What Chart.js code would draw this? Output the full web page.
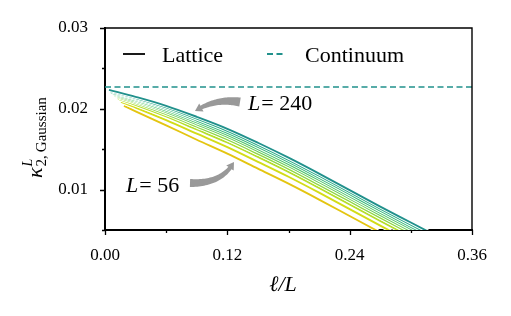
<!DOCTYPE html>
<html>
<head>
<meta charset="utf-8">
<script src="https://cdn.jsdelivr.net/npm/chart.js@4.4.1/dist/chart.umd.min.js"></script>
<style>
  html, body { margin: 0; padding: 0; background: #ffffff; }
  #wrap { width: 511px; height: 316px; position: relative; }
</style>
</head>
<body>
<div id="wrap"><canvas id="c" width="511" height="316"></canvas></div>
<script>
// ---------- data ----------
const L_VALUES = [56, 64, 80, 96, 112, 128, 160, 192, 240];
const X_GRID = [0.03, 0.06, 0.09, 0.12, 0.15, 0.18, 0.21, 0.24, 0.27, 0.30, 0.33];
const START_X = [0.0186, 0.0157, 0.0128, 0.0108, 0.0088, 0.0078, 0.0059, 0.0049, 0.0039];
const START_Y = [0.02037, 0.02086, 0.02123, 0.02148, 0.02169, 0.02185, 0.02202, 0.02219, 0.02235];

const kappa_L56  = [0.01969, 0.01796, 0.01617, 0.01444, 0.01259, 0.01074, 0.00877, 0.00673, 0.00469, 0.00265, 0.00060];
const kappa_L64  = [0.02016, 0.01860, 0.01693, 0.01526, 0.01344, 0.01159, 0.00962, 0.00758, 0.00554, 0.00352, 0.00151];
const kappa_L80  = [0.02049, 0.01905, 0.01744, 0.01583, 0.01404, 0.01219, 0.01021, 0.00817, 0.00614, 0.00412, 0.00211];
const kappa_L96  = [0.02072, 0.01933, 0.01779, 0.01620, 0.01442, 0.01257, 0.01059, 0.00856, 0.00652, 0.00452, 0.00252];
const kappa_L112 = [0.02089, 0.01958, 0.01807, 0.01651, 0.01474, 0.01289, 0.01091, 0.00888, 0.00684, 0.00484, 0.00285];
const kappa_L128 = [0.02104, 0.01978, 0.01832, 0.01678, 0.01501, 0.01316, 0.01119, 0.00915, 0.00711, 0.00512, 0.00314];
const kappa_L160 = [0.02119, 0.01998, 0.01854, 0.01702, 0.01528, 0.01343, 0.01146, 0.00942, 0.00738, 0.00539, 0.00341];
const kappa_L192 = [0.02133, 0.02017, 0.01878, 0.01727, 0.01554, 0.01369, 0.01172, 0.00968, 0.00764, 0.00565, 0.00368];
const kappa_L240 = [0.02148, 0.02037, 0.01901, 0.01753, 0.01580, 0.01395, 0.01198, 0.00994, 0.00790, 0.00593, 0.00395];
const SERIES = [kappa_L56, kappa_L64, kappa_L80, kappa_L96, kappa_L112, kappa_L128, kappa_L160, kappa_L192, kappa_L240];

const CONTINUUM = 0.0227;
const X_RANGE = [0, 0.36];
const Y_RANGE = [0.005, 0.03];
const X_MAJOR = [0.00, 0.12, 0.24, 0.36];
const X_MINOR = [0.06, 0.18, 0.30];
const Y_MAJOR = [0.01, 0.02, 0.03];
const Y_MINOR = [0.005, 0.015, 0.025];

const COLORS = ['#e4c510', '#d3dc16', '#b5de2b', '#8fd744', '#6ccd5a', '#4ec36b', '#35b779', '#23a884', '#21918c'];
const CONT_COLOR = '#21918c';
const FAMILY = 'Liberation Serif';
const FONT = '"Liberation Serif", serif';

// ---------- datasets ----------
const datasets = [];
const N = L_VALUES.length;
let drawIndex = 0;
const totalDraw = 2 * N + 1;
for (let k = 0; k < N; k++) {
  const pts = [{x: START_X[k], y: START_Y[k]}];
  SERIES[k].forEach((v, i) => pts.push({x: X_GRID[i], y: v}));
  datasets.push({
    label: 'outline' + L_VALUES[k], data: pts, borderColor: '#ffffff', borderWidth: 3.8,
    pointRadius: 0, cubicInterpolationMode: 'monotone', clip: 0, order: totalDraw - (drawIndex++)
  });
  datasets.push({
    label: 'L=' + L_VALUES[k], data: pts, borderColor: COLORS[k], borderWidth: 1.9,
    pointRadius: 0, cubicInterpolationMode: 'monotone', clip: 0, order: totalDraw - (drawIndex++)
  });
}
datasets.push({
  label: 'Continuum', data: [{x: X_RANGE[0], y: CONTINUUM}, {x: X_RANGE[1], y: CONTINUUM}],
  borderColor: CONT_COLOR, borderWidth: 1.6, borderDash: [6, 3.5], pointRadius: 0, clip: 0,
  order: totalDraw - (drawIndex++)
});

// ---------- helpers ----------
function fancyArrow(ctx, p0, pc, p1, wTail, wNeck, headLen, headW) {
  const bez = t => ({
    x: (1-t)*(1-t)*p0.x + 2*(1-t)*t*pc.x + t*t*p1.x,
    y: (1-t)*(1-t)*p0.y + 2*(1-t)*t*pc.y + t*t*p1.y
  });
  const S = 60; let pts = [], len = 0;
  for (let i = 0; i <= S; i++) { const p = bez(i/S); if (i) len += Math.hypot(p.x-pts[i-1].x, p.y-pts[i-1].y); pts.push(p); }
  let acc = 0, tNeck = 1;
  for (let i = 1; i <= S; i++) {
    acc += Math.hypot(pts[i].x-pts[i-1].x, pts[i].y-pts[i-1].y);
    if (acc >= len - headLen) { tNeck = i/S; break; }
  }
  const left = [], right = [];
  const M = 30;
  for (let i = 0; i <= M; i++) {
    const t = tNeck * i / M;
    const p = bez(t), q = bez(Math.min(1, t + 0.01));
    let dx = q.x - p.x, dy = q.y - p.y; const d = Math.hypot(dx, dy) || 1; dx /= d; dy /= d;
    const w = (wTail + (wNeck - wTail) * (i / M)) / 2;
    left.push({x: p.x - dy*w, y: p.y + dx*w});
    right.push({x: p.x + dy*w, y: p.y - dx*w});
  }
  const pn = bez(tNeck);
  let dx = p1.x - pn.x, dy = p1.y - pn.y; const d = Math.hypot(dx, dy) || 1; dx /= d; dy /= d;
  ctx.beginPath();
  ctx.moveTo(left[0].x, left[0].y);
  left.forEach(p => ctx.lineTo(p.x, p.y));
  ctx.lineTo(pn.x - dy*headW/2, pn.y + dx*headW/2);
  ctx.lineTo(p1.x, p1.y);
  ctx.lineTo(pn.x + dy*headW/2, pn.y - dx*headW/2);
  for (let i = right.length - 1; i >= 0; i--) ctx.lineTo(right[i].x, right[i].y);
  ctx.closePath();
  ctx.fill();
}

function drawLText(ctx, x, y, rest, size) {
  ctx.font = 'italic ' + size + 'px ' + FONT;
  ctx.fillText('L', x, y);
  const w = ctx.measureText('L').width;
  ctx.font = size + 'px ' + FONT;
  ctx.fillText(rest, x + w + 1, y);
}

const decorPlugin = {
  id: 'decor',
  afterDraw(chart) {
    const {ctx, chartArea: a, scales: {x, y}} = chart;
    ctx.save();
    ctx.strokeStyle = '#000'; ctx.fillStyle = '#000';
    ctx.lineWidth = 1.4;
    ctx.beginPath();
    ctx.moveTo(a.left, a.top); ctx.lineTo(a.right, a.top); ctx.lineTo(a.right, a.bottom);
    ctx.stroke();
    ctx.lineWidth = 1.3;
    ctx.beginPath();
    Y_MAJOR.forEach(v => { const py = Math.round(y.getPixelForValue(v)) + 0.5; ctx.moveTo(a.left, py); ctx.lineTo(a.left - 5, py); });
    Y_MINOR.forEach(v => { const py = Math.round(y.getPixelForValue(v)) + 0.5; ctx.moveTo(a.left, py); ctx.lineTo(a.left - 3, py); });
    X_MAJOR.forEach(v => { const px = Math.round(x.getPixelForValue(v)) + 0.5; ctx.moveTo(px, a.bottom); ctx.lineTo(px, a.bottom + 5); });
    X_MINOR.forEach(v => { const px = Math.round(x.getPixelForValue(v)) + 0.5; ctx.moveTo(px, a.bottom); ctx.lineTo(px, a.bottom + 3); });
    ctx.stroke();

    // legend
    ctx.lineWidth = 1.8;
    ctx.beginPath(); ctx.moveTo(123, 54); ctx.lineTo(145, 54); ctx.stroke();
    ctx.strokeStyle = CONT_COLOR; ctx.setLineDash([6, 3.5]);
    ctx.beginPath(); ctx.moveTo(267, 54); ctx.lineTo(286, 54); ctx.stroke();
    ctx.setLineDash([]);
    ctx.font = '22px ' + FONT; ctx.textBaseline = 'alphabetic'; ctx.textAlign = 'left';
    ctx.fillStyle = '#000';
    ctx.fillText('Lattice', 162, 62);
    ctx.fillText('Continuum', 305, 62);

    // annotations
    drawLText(ctx, 248, 110, '= 240', 22);
    drawLText(ctx, 126, 192, '= 56', 22);
    ctx.fillStyle = '#999999';
    fancyArrow(ctx, {x: 240, y: 102}, {x: 216, y: 98}, {x: 195, y: 111}, 9, 4, 8, 9);
    fancyArrow(ctx, {x: 190, y: 183}, {x: 222, y: 184}, {x: 234, y: 162}, 8, 4, 8, 9);

    // axis labels
    ctx.fillStyle = '#000';
    ctx.font = 'italic 22px ' + FONT;
    ctx.textAlign = 'center';
    ctx.fillText('\u2113/L', 283, 291);
    ctx.textAlign = 'left';
    ctx.save();
    ctx.translate(42, 178);
    ctx.rotate(-Math.PI / 2);
    ctx.font = 'italic 22px ' + FONT;
    ctx.fillText('\u03BA', 0, 0);
    const wk = ctx.measureText('\u03BA').width;
    ctx.font = 'italic 14px ' + FONT;
    ctx.fillText('L', wk + 1, -10);
    ctx.font = '15px ' + FONT;
    ctx.fillText('2,\u2009Gaussian', wk + 1, 4);
    ctx.restore();
    ctx.restore();
  }
};

function build() {
  new Chart(document.getElementById('c'), {
    type: 'line',
    data: { datasets },
    options: {
      responsive: false, animation: false, devicePixelRatio: 1,
      layout: { padding: { top: 28, right: 39, left: 0, bottom: 0 } },
      plugins: { legend: { display: false }, tooltip: { enabled: false } },
      scales: {
        x: {
          type: 'linear', min: X_RANGE[0], max: X_RANGE[1],
          afterFit: s => { s.height = 86; },
          grid: { display: false, drawTicks: false },
          border: { display: true, color: '#000', width: 2 },
          ticks: {
            stepSize: 0.06, padding: 15, color: '#000', maxRotation: 0, autoSkip: false,
            font: { family: FAMILY, size: 17 },
            callback: v => X_MAJOR.some(m => Math.abs(m - v) < 1e-9) ? v.toFixed(2) : ''
          }
        },
        y: {
          type: 'linear', min: Y_RANGE[0], max: Y_RANGE[1],
          afterFit: s => { s.width = 105; },
          grid: { display: false, drawTicks: false },
          border: { display: true, color: '#000', width: 2 },
          ticks: {
            stepSize: 0.005, padding: 17, color: '#000', autoSkip: false,
            font: { family: FAMILY, size: 17 },
            callback: v => Y_MAJOR.some(m => Math.abs(m - v) < 1e-9) ? v.toFixed(2) : ''
          }
        }
      }
    },
    plugins: [decorPlugin]
  });
}

const loads = ['17px', '22px', 'italic 22px', '15px', 'italic 14px'].map(f => document.fonts.load(f + ' "Liberation Serif"').catch(() => null));
Promise.all(loads).then(build, build);
</script>
</body>
</html>
